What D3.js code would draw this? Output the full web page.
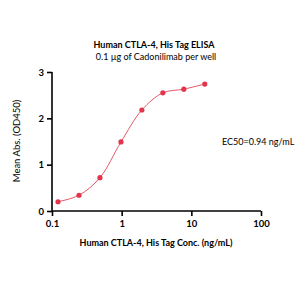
<!DOCTYPE html>
<html><head><meta charset="utf-8">
<script src="https://cdn.jsdelivr.net/npm/d3@7"></script>
<style>body{margin:0;background:#fff}svg{display:block}</style>
</head><body>
<svg id="c" width="300" height="300"></svg>
<script>
const concentrations = [0.122, 0.244, 0.488, 0.977, 1.95, 3.9, 7.8, 15.6];
const absorbance = [0.20, 0.34, 0.72, 1.49, 2.18, 2.55, 2.63, 2.74];
const xTicks = [0.1, 1, 10, 100];
const yTicks = [0, 1, 2, 3];
const titleText = "Human CTLA-4, His Tag ELISA";
const subtitleText = "0.1 µg of Cadonilimab per well";
const xLabel = "Human CTLA-4, His Tag Conc. (ng/mL)";
const yLabel = "Mean Abs. (OD450)";
const ec50Text = "EC50=0.94 ng/mL";

const font = "Lato, 'Open Sans', sans-serif";
const svg = d3.select("#c");
const x = d3.scaleLog().domain([0.1, 100]).range([52, 261]);
const y = d3.scaleLinear().domain([0, 3]).range([211, 72]);

const red = "#e2344a";

const xa = svg.append("g").attr("transform", "translate(0,211)")
  .call(d3.axisBottom(x).tickValues(xTicks).tickFormat(d3.format("~g")).tickSize(5).tickPadding(4));
const ya = svg.append("g").attr("transform", "translate(52,0)")
  .call(d3.axisLeft(y).tickValues(yTicks).tickFormat(d3.format("d")).tickSize(5).tickPadding(3));
[xa, ya].forEach(a => {
  a.select(".domain").attr("stroke", "#000").attr("stroke-width", 1.6);
  a.selectAll(".tick line").attr("stroke", "#000").attr("stroke-width", 1.6);
  a.selectAll(".tick text").attr("font-family", font).attr("font-weight", "bold").attr("font-size", 9.5).attr("fill", "#000");
});
xa.select(".domain").attr("d", "M52,0H261");
ya.select(".domain").attr("d", "M0,72V211");

const pts = concentrations.map((c, i) => [c, absorbance[i]]);
svg.append("path").datum(pts)
  .attr("d", d3.line().x(d => x(d[0])).y(d => y(d[1])).curve(d3.curveCatmullRom.alpha(0.5)))
  .attr("fill", "none").attr("stroke", "#e45a68").attr("stroke-width", 1);
svg.selectAll("circle.pt").data(pts).enter().append("circle")
  .attr("cx", d => x(d[0])).attr("cy", d => y(d[1])).attr("r", 2.6).attr("fill", red);

svg.append("text").attr("x", 154).attr("y", 48).attr("text-anchor", "middle")
  .attr("font-family", font).attr("font-weight", "bold").attr("font-size", 9).text(titleText);
svg.append("text").attr("x", 156).attr("y", 60).attr("text-anchor", "middle")
  .attr("font-family", font).attr("font-size", 9).text(subtitleText);
svg.append("text").attr("x", 156).attr("y", 246).attr("text-anchor", "middle")
  .attr("font-family", font).attr("font-weight", "bold").attr("font-size", 9).text(xLabel);
svg.append("text").attr("transform", "translate(20,141) rotate(-90)").attr("text-anchor", "middle")
  .attr("font-family", font).attr("font-size", 9.5).text(yLabel);
svg.append("text").attr("x", 222).attr("y", 145)
  .attr("font-family", font).attr("font-size", 9).text(ec50Text);
</script>
</body></html>
